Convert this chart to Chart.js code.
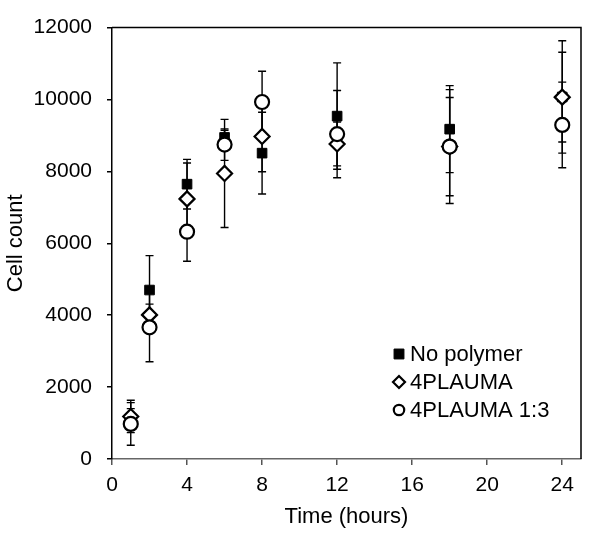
<!DOCTYPE html>
<html><head><meta charset="utf-8">
<script src="https://cdn.jsdelivr.net/npm/chart.js@4/dist/chart.umd.min.js"></script>
<style>html,body{margin:0;padding:0;background:#fff}#wrap{width:602px;height:539px}</style>
</head><body><div id="wrap"><canvas id="c" width="602" height="539"></canvas></div>
<script>
const times = [1, 2, 4, 6, 8, 12, 18, 24];
const noPolymer = [1100, 4700, 7645, 8945, 8508, 9538, 9175, 10070];
const noPolymerErr = [300, 957, 690, 200, 1137, 1480, 1210, 1563];
const plauma = [1184, 4009, 7235, 7944, 8973, 8764, 8690, 10066];
const plaumaErr = [450, 300, 1000, 1503, 983, 610, 1366, 1250];
const plauma13 = [975, 3662, 6322, 8746, 9930, 9037, 8691, 9292];
const plauma13Err = [592, 956, 820, 438, 857, 1212, 1585, 1190];
const xTicks = [0, 4, 8, 12, 16, 20, 24];
const yTicks = [0, 2000, 4000, 6000, 8000, 10000, 12000];
const seriesLabels = ['No polymer', '4PLAUMA', '4PLAUMA 1:3'];

const FONT = "'Liberation Sans', Arial, sans-serif";
const toPts = (ys) => times.map((t, i) => ({x: t, y: ys[i]}));

const errorBars = {
  id: 'errorBars',
  beforeDatasetsDraw(chart) {
    const {ctx, scales: {x, y}} = chart;
    const errs = [noPolymerErr, plaumaErr, plauma13Err];
    const vals = [noPolymer, plauma, plauma13];
    ctx.save();
    ctx.strokeStyle = '#000';
    ctx.lineWidth = 1.4;
    errs.forEach((e, s) => {
      times.forEach((t, i) => {
        const px = x.getPixelForValue(t);
        const top = y.getPixelForValue(vals[s][i] + e[i]);
        const bot = y.getPixelForValue(vals[s][i] - e[i]);
        ctx.beginPath();
        ctx.moveTo(px, top); ctx.lineTo(px, bot);
        ctx.moveTo(px - 4, top); ctx.lineTo(px + 4, top);
        ctx.moveTo(px - 4, bot); ctx.lineTo(px + 4, bot);
        ctx.stroke();
      });
    });
    ctx.restore();
  }
};

const frame = {
  id: 'frame',
  afterDraw(chart) {
    const {ctx, chartArea: a} = chart;
    ctx.save();
    ctx.strokeStyle = '#000';
    ctx.lineWidth = 1.5;
    ctx.beginPath();
    ctx.moveTo(a.left, a.top); ctx.lineTo(a.right, a.top); ctx.lineTo(a.right, a.bottom);
    ctx.stroke();
    ctx.restore();
  }
};

const legendPlugin = {
  id: 'customLegend',
  afterDraw(chart) {
    const {ctx} = chart;
    ctx.save();
    ctx.font = '22px ' + FONT;
    ctx.textBaseline = 'middle';
    ctx.textAlign = 'left';
    chart.data.datasets.forEach((ds, i) => {
      const yy = 354 + i * 28;
      ctx.fillStyle = ds.pointBackgroundColor;
      ctx.strokeStyle = '#000';
      ctx.lineWidth = ds.pointBorderWidth;
      Chart.helpers.drawPoint(ctx, {pointStyle: ds.pointStyle, radius: ds.legendRadius, borderWidth: ds.pointBorderWidth}, 399, yy);
      ctx.fillStyle = '#000';
      ctx.fillText(ds.label, 410, yy + 1);
    });
    ctx.restore();
  }
};

new Chart(document.getElementById('c'), {
  type: 'scatter',
  data: {
    datasets: [
      {label: seriesLabels[0], data: toPts(noPolymer), pointStyle: 'rect', pointRadius: 6.8, pointBackgroundColor: '#000', pointBorderColor: '#000', pointBorderWidth: 1, legendRadius: 7, order: 3},
      {label: seriesLabels[1], data: toPts(plauma), pointStyle: 'rectRot', pointRadius: 7.5, pointBackgroundColor: '#fff', pointBorderColor: '#000', pointBorderWidth: 2.2, legendRadius: 6, order: 2},
      {label: seriesLabels[2], data: toPts(plauma13), pointStyle: 'circle', pointRadius: 7, pointBackgroundColor: '#fff', pointBorderColor: '#000', pointBorderWidth: 2.2, legendRadius: 5.2, order: 1}
    ]
  },
  options: {
    responsive: false,
    animation: false,
    devicePixelRatio: 1,
    layout: {padding: {top: 20, right: 21, left: 0, bottom: 0}},
    plugins: {legend: {display: false}, tooltip: {enabled: false}},
    scales: {
      x: {
        type: 'linear', min: 0, max: 25,
        afterBuildTicks: (s) => { s.ticks = xTicks.map(v => ({value: v})); },
        afterFit: (s) => { s.height = 80; },
        ticks: {font: {family: FONT, size: 21}, color: '#000', padding: 8, maxRotation: 0, callback: (v) => String(v)},
        grid: {drawOnChartArea: false, drawTicks: true, tickLength: 6, color: '#555', lineWidth: 1.5},
        border: {display: true, color: '#666', width: 1.5},
        title: {display: true, text: 'Time (hours)', font: {family: FONT, size: 22}, color: '#000', padding: {top: 0, bottom: 9}}
      },
      y: {
        type: 'linear', min: 0, max: 12000,
        afterBuildTicks: (s) => { s.ticks = yTicks.map(v => ({value: v})); },
        afterFit: (s) => { s.width = 112; },
        ticks: {font: {family: FONT, size: 21}, color: '#000', padding: 15, callback: (v) => String(v)},
        grid: {drawOnChartArea: false, drawTicks: true, tickLength: 5, color: '#000', lineWidth: 1.5},
        border: {display: true, color: '#000', width: 1.5},
        title: {display: true, text: 'Cell count', font: {family: FONT, size: 22}, color: '#000', padding: {top: 3, bottom: 0}}
      }
    }
  },
  plugins: [errorBars, frame, legendPlugin]
});
</script>
</body></html>
